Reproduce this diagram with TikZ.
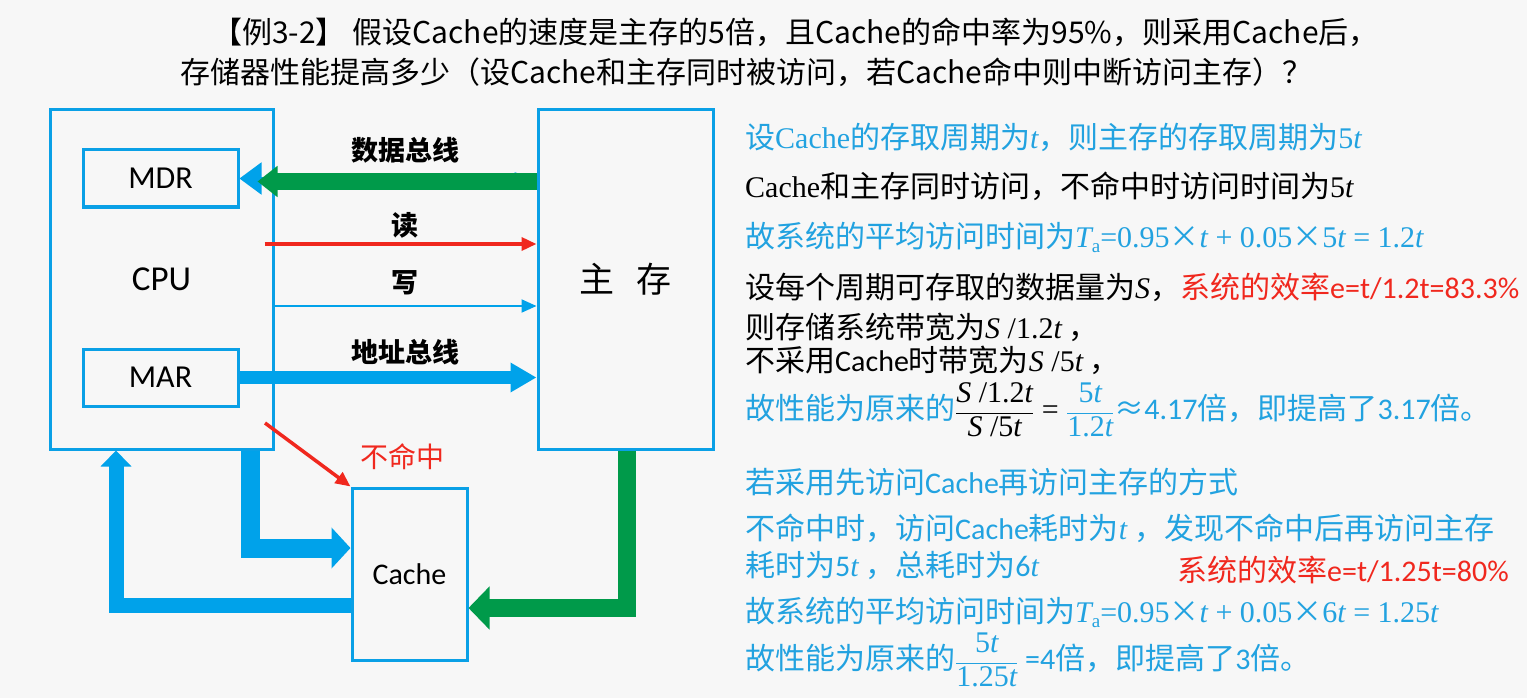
\documentclass[tikz,border=0pt]{standalone}
\usepackage{fontspec}
\setmainfont{Liberation Serif}
\newfontfamily\cjk{Noto Sans CJK SC}
\newfontfamily\slsans{Carlito}
\usetikzlibrary{arrows.meta}
\definecolor{ccLine}{HTML}{0AA0E6}
\definecolor{ccBlue}{HTML}{00A2EA}
\definecolor{ccGreen}{HTML}{009A4A}
\definecolor{ccRed}{HTML}{F0281E}
\definecolor{ccText}{HTML}{22A2E0}
\definecolor{ccBg}{HTML}{F7F7F7}
\newcommand\ivar[1]{{\rmfamily\itshape #1}}
\newcommand\rmn[1]{{\rmfamily #1}}
\newcommand\subA{\raisebox{-5pt}{\rmfamily\fontsize{19}{19}\selectfont a}}
\tikzset{
  ccbox/.style={rectangle, draw=ccLine, line width=3pt, inner sep=0pt},
  cctitle/.style={anchor=west, inner sep=0pt, font=\cjk\fontsize{30}{30}\selectfont},
  cclabel/.style={inner sep=0pt, font=\cjk\bfseries\fontsize{27}{27}\selectfont},
  cctext/.style={anchor=west, inner sep=0pt, text=ccText, font=\cjk\fontsize{30}{35}\selectfont},
  bigbus/.style={ccBlue, line width=#1},
  greenbus/.style={ccGreen, line width=#1},
  thinarrow/.style={-{Triangle[length=15pt,width=13pt]}}
}

\begin{document}
\begin{tikzpicture}[x=1pt, y=-1pt]
  \fill[ccBg] (0,0) rectangle (1527,698);
  \useasboundingbox (0,0) rectangle (1527,698);

  \node[cctitle] (title1) at (212,32) {【例3-2】 假设Cache的速度是主存的5倍，且Cache的命中率为95\%，则采用Cache后，};
  \node[cctitle] (title2) at (180,72) {存储器性能提高多少（设Cache和主存同时被访问，若Cache命中则中断访问主存）？};

  % bus arrows first, boxes on top
  \node[ccbox, minimum width=223pt, minimum height=339pt, font=\slsans\fontsize{35}{35}\selectfont] (cpu) at (161.5,279.5) {CPU};
  \node[ccbox, minimum width=175pt, minimum height=339pt, font=\cjk\fontsize{35}{35}\selectfont] (mem) at (625.5,279.5) {主\hspace{22pt}存};
  \node[ccbox, minimum width=155pt, minimum height=57pt, font=\slsans\fontsize{32}{32}\selectfont] (mdr) at (160.5,178.5) {MDR};
  \node[ccbox, minimum width=155pt, minimum height=57pt, font=\slsans\fontsize{32}{32}\selectfont] (mar) at (160.5,377.5) {MAR};
  \node[ccbox, minimum width=115pt, minimum height=172pt, font=\slsans\fontsize{30}{30}\selectfont] (cache) at (409.5,574) {Cache};

  \draw[ccBlue, line width=2pt, {Triangle[length=22pt,width=32pt]}-{Triangle[length=22pt,width=12pt]}]
    (mdr.east) -- (mdr.east -| mem.west);
  \draw[greenbus=17pt, -{Triangle[length=20pt,width=30pt]}]
    ([yshift=-3pt]mdr.east -| mem.west) -- ([xshift=18pt,yshift=-3pt]mdr.east);
  \draw[ccRed, line width=3.5pt, thinarrow] ([xshift=-10pt,yshift=35.5pt]cpu.east) -- ([yshift=35.5pt]mem.west);
  \draw[ccBlue, line width=2pt, thinarrow] ([yshift=-26.5pt]cpu.east) -- ([yshift=-26.5pt]mem.west);
  \draw[bigbus=13pt, -{Triangle[length=26pt,width=28pt]}] (mar.east) -- (mar.east -| mem.west);

  \draw[bigbus=19pt, -{Triangle[length=19pt,width=40pt]}]
    ([xshift=88.5pt]cpu.south) |- ([yshift=26pt]cache.west);
  \draw[bigbus=15pt, -{Triangle[length=16pt,width=30pt]}]
    ([yshift=-31pt]cache.west) -| ([xshift=-45.5pt]cpu.south);
  \draw[greenbus=18pt, -{Triangle[length=21pt,width=42pt]}]
    ([xshift=1.5pt]mem.south) |- ([yshift=-34pt]cache.east);

  \coordinate (missFrom) at (265,423);
  \draw[ccRed, line width=3.5pt, thinarrow] (missFrom) -- (cache.north west);
  \node[text=ccRed, inner sep=0pt, font=\cjk\fontsize{28}{28}\selectfont] (miss) at (402,457) {不命中};

  \foreach \y/\lbl in {150/数据总线, 225/读, 283/写, 352/地址总线}
    \node[cclabel] (lbl\y) at (405,\y) {\lbl};

  \node[cctext] (l1) at (745,137) {设\rmn{Cache}的存取周期为\ivar{t}，则主存的存取周期为\rmn{5}\ivar{t}};
  \node[cctext, text=black] (l2) at (745,186) {\rmn{Cache}和主存同时访问，不命中时访问时间为\rmn{5}\ivar{t}};
  \node[cctext] (l3) at (745,237) {故系统的平均访问时间为\ivar{T}\subA\rmn{=0.95}×\ivar{t}\rmn{ + 0.05}×\rmn{5}\ivar{t}\rmn{ = 1.2}\ivar{t}};
  \node[cctext, text=black] (l4) at (745,287) {设每个周期可存取的数据量为\ivar{S}，\textcolor{ccRed}{系统的效率{\slsans e=t/1.2t=83.3\%}}};
  \node[cctext, text=black] (l5) at (745,327) {则存储系统带宽为\ivar{S}\rmn{ /1.2}\ivar{t} ，};
  \node[cctext, text=black] (l6) at (745,360) {不采用{\slsans Cache}时带宽为\ivar{S}\rmn{ /5}\ivar{t} ，};
  \node[cctext] (l7) at (745,410) {故性能为原来的\textcolor{black}{$\displaystyle\frac{\mbox{\ivar{S}\rmn{ /1.2}\ivar{t}}}{\mbox{\ivar{S}\rmn{ /5}\ivar{t}}}$\rmn{ = }}$\displaystyle\frac{\mbox{\rmn{5}\ivar{t}}}{\mbox{\rmn{1.2}\ivar{t}}}$≈{\slsans 4.17}倍，即提高了{\slsans 3.17}倍。};
  \node[cctext] (l8) at (745,482) {若采用先访问{\slsans Cache}再访问主存的方式};
  \node[cctext] (l9) at (745,528) {不命中时，访问{\slsans Cache}耗时为\ivar{t} ，发现不命中后再访问主存};
  \node[cctext] (l10) at (745,566) {耗时为{\slsans 5}\ivar{t} ，总耗时为{\slsans 6}\ivar{t}};
  \node[cctext, text=ccRed] (eff2) at (1177,570) {系统的效率{\slsans e=t/1.25t=80\%}};
  \node[cctext] (l11) at (745,612) {故系统的平均访问时间为\ivar{T}\subA\rmn{=0.95}×\ivar{t}\rmn{ + 0.05}×\rmn{6}\ivar{t}\rmn{ = 1.25}\ivar{t}};
  \node[cctext] (l12) at (745,660) {故性能为原来的$\displaystyle\frac{\mbox{\rmn{5}\ivar{t}}}{\mbox{\rmn{1.25}\ivar{t}}}$ {\slsans =4}倍，即提高了{\slsans 3}倍。};
\end{tikzpicture}
\end{document}
